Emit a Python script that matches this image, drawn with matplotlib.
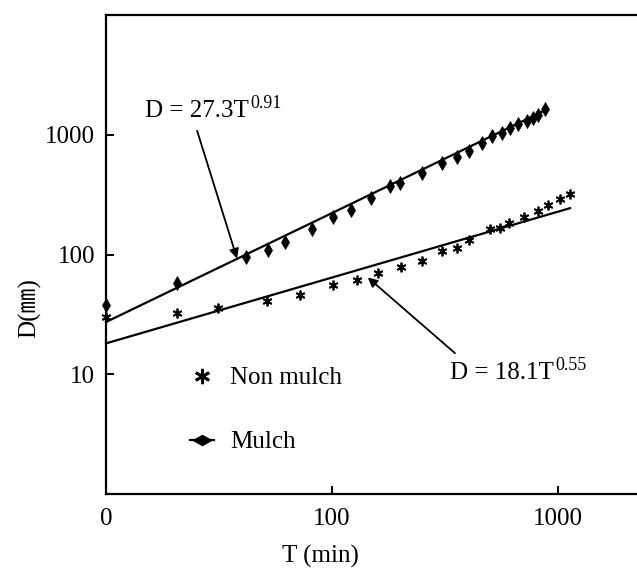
import numpy as np
import matplotlib
matplotlib.use("Agg")
import matplotlib.pyplot as plt
from matplotlib.lines import Line2D
from matplotlib.markers import MarkerStyle
from matplotlib.transforms import Affine2D

plt.rcParams['font.family'] = ['Liberation Serif', 'Noto Sans CJK JP', 'DejaVu Serif']

# ---- data ----
mulch_T = [10, 20.6, 41.6, 52.1, 61.9, 81.6, 101, 121, 149, 181, 200, 250, 307, 357,
           403, 461, 511, 565, 613, 666, 729, 775, 816, 876]
mulch_D = [37.6, 57.3, 94.4, 108, 128, 162, 207, 237, 298, 376, 398, 482, 584, 656,
           736, 858, 981, 1040, 1143, 1235, 1308, 1386, 1468, 1648]

nonmulch_T = [10, 20.6, 31.3, 51.5, 72.1, 101, 129, 160, 202, 250, 307, 357, 403,
              500, 554, 607, 708, 816, 904, 1020, 1130]
nonmulch_D = [29.9, 32.2, 35.5, 40.6, 45.5, 55.2, 60.7, 69.5, 78, 89.1, 106, 114, 131,
              162, 165, 185, 207, 233, 261, 293, 322]

# fitted power laws (as drawn on the chart axis)
mulch_fit = dict(a=27.3, b=0.91, T_start=10, T_end=876)
nonmulch_fit = dict(a=18.1, b=0.55, T_start=10, T_end=1130)
fit_T_ref = 10

x_ticks = [10, 100, 1000]
x_ticklabels = ['0', '100', '1000']
y_ticks = [10, 100, 1000]
y_ticklabels = ['10', '100', '1000']

# ---- figure ----
W, H = 637, 577
fig = plt.figure(figsize=(W / 100, H / 100), dpi=100)
ax = fig.add_axes([106 / W, 1 - 494 / H, 1 - 106 / W, (494 - 15) / H])
ax.set_xscale('log')
ax.set_yscale('log')
ax.set_xlim(10, 10 ** (1 + (W - 106) / 226))
ax.set_ylim(1, 10 ** 4)

for fit in (mulch_fit, nonmulch_fit):
    tt = np.geomspace(fit['T_start'], fit['T_end'], 50)
    ax.plot(tt, fit['a'] * (tt / fit_T_ref) ** fit['b'], color='black', lw=1.6,
            clip_on=False, zorder=2)

ax.plot(mulch_T, mulch_D, linestyle='none', marker='d', markersize=7.5,
        color='black', markeredgewidth=0.5, zorder=3, clip_on=False)
ax.plot(nonmulch_T, nonmulch_D, linestyle='none', marker=(6, 2, 0), markersize=7,
        color='black', markeredgewidth=1.3, zorder=3, clip_on=False)

# spines / ticks
ax.spines['right'].set_visible(False)
for s in ('left', 'bottom', 'top'):
    ax.spines[s].set_linewidth(1.6)
ax.set_xticks(x_ticks)
ax.set_xticklabels(x_ticklabels)
ax.set_yticks(y_ticks)
ax.set_yticklabels(y_ticklabels)
ax.minorticks_off()
ax.tick_params(which='both', direction='in', length=6, width=1.4, labelsize=18)
ax.tick_params(axis='y', pad=8)
ax.tick_params(axis='x', pad=10)

fig.text(30 / W, 1 - 308 / H, 'D(㎜)', rotation=90, fontsize=18, ha='center', va='center')
fig.text(320 / W, 1 - 556 / H, 'T (min)', fontsize=18, ha='center', va='center')

# equation annotations
t1 = ax.text(14.9, 1585, 'D = 27.3T', fontsize=18, ha='left', va='center')
ax.annotate('0.91', xy=(1.0, 0.85), xycoords=t1, xytext=(1, 0), textcoords='offset points',
            fontsize=13, ha='left', va='center')
ax.annotate('', xy=(38, 92.6), xytext=(25.3, 1080),
            arrowprops=dict(arrowstyle='-|>', lw=1.3, color='black', mutation_scale=14,
                            shrinkA=0, shrinkB=0))

t2 = ax.text(333, 10.2, 'D = 18.1T', fontsize=18, ha='left', va='center')
ax.annotate('0.55', xy=(1.0, 0.85), xycoords=t2, xytext=(1, 0), textcoords='offset points',
            fontsize=13, ha='left', va='center')
ax.annotate('', xy=(144, 64.3), xytext=(350, 15.0),
            arrowprops=dict(arrowstyle='-|>', lw=1.3, color='black', mutation_scale=14,
                            shrinkA=0, shrinkB=0))

# legend
h_nm = Line2D([], [], linestyle='none', marker=(6, 2, 0), markersize=11,
              color='black', markeredgewidth=2)
h_m = Line2D([], [], linestyle='-', lw=1.6, color='black',
             marker=MarkerStyle('d', transform=Affine2D().rotate_deg(90)),
             markersize=9)
ax.legend([h_nm, h_m], ['Non mulch', 'Mulch'], loc='upper left',
          bbox_to_anchor=(190 / W, 1 - 367 / H), bbox_transform=fig.transFigure,
          frameon=False, fontsize=18, handlelength=0.95, handletextpad=0.65,
          labelspacing=1.65, borderpad=0, borderaxespad=0)

fig.savefig('out.png', dpi=100)
